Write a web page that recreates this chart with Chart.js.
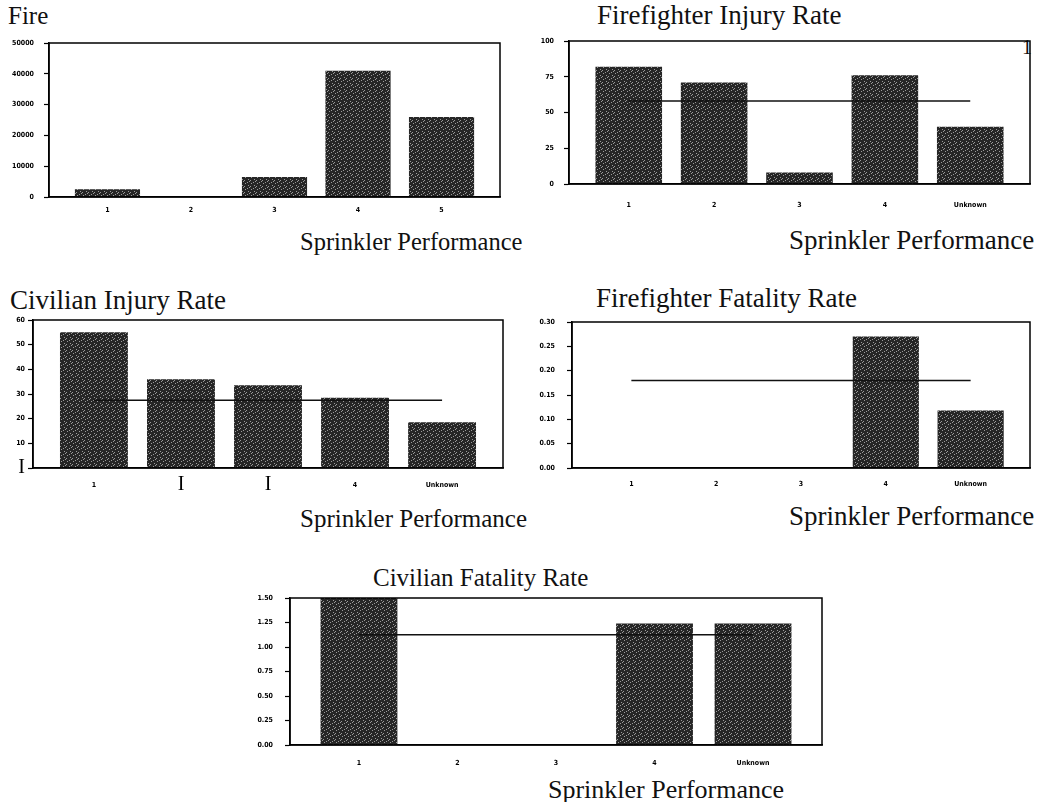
<!DOCTYPE html>
<html>
<head>
<meta charset="utf-8">
<script src="https://cdn.jsdelivr.net/npm/chart.js@4.4.1/dist/chart.umd.min.js"></script>
<style>
  body { margin: 0; background: #fff; width: 1039px; height: 802px; position: relative; overflow: hidden; }
  canvas { position: absolute; }
  .t { position: absolute; font-family: "Liberation Serif", "DejaVu Serif", serif; font-size: 27px; line-height: 27px; color: #111; white-space: nowrap; }
</style>
</head>
<body>
<div class="t" style="left:8px;top:2px;font-size:25px">Fire</div>
<div class="t" style="left:597px;top:2px">Firefighter Injury Rate</div>
<div class="t" style="left:1022px;top:34px;font-size:20px">1</div>
<div class="t" style="left:300px;top:228px;font-size:24.5px">Sprinkler Performance</div>
<div class="t" style="left:789px;top:227px">Sprinkler Performance</div>
<div class="t" style="left:10px;top:287px">Civilian Injury Rate</div>
<div class="t" style="left:596px;top:285px">Firefighter Fatality Rate</div>
<div class="t" style="left:300px;top:505px;font-size:25px">Sprinkler Performance</div>
<div class="t" style="left:789px;top:503px">Sprinkler Performance</div>
<div class="t" style="left:373px;top:564px;font-size:25px">Civilian Fatality Rate</div>
<div class="t" style="left:548px;top:776px;font-size:26px">Sprinkler Performance</div>

<canvas id="fire"></canvas>
<canvas id="ffInjury"></canvas>
<canvas id="civInjury"></canvas>
<canvas id="ffFatality"></canvas>
<canvas id="civFatality"></canvas>

<script>
// categories (sprinkler performance)
const fireCategories = ['1', '2', '3', '4', '5'];
const perfCategories = ['1', '2', '3', '4', 'Unknown'];
const civInjuryCategories = ['1', 'I', 'I', '4', 'Unknown'];

// values
const fireValues = [2500, 0, 6500, 41000, 26000];
const ffInjuryRates = [82, 71, 8, 76, 40];
const ffInjuryAverage = [58, 58, 58, 58, 58];
const civInjuryRates = [55, 36, 33.5, 28.5, 18.5];
const civInjuryAverage = [27.5, 27.5, 27.5, 27.5, 27.5];
const ffFatalityRates = [0, 0, 0, 0.27, 0.118];
const ffFatalityAverage = [0.18, 0.18, 0.18, 0.18, 0.18];
const civFatalityRates = [1.5, 0, 0, 1.24, 1.24];
const civFatalityAverage = [1.125, 1.125, 1.125, 1.125, 1.125];

// y tick values
const fireTicks = [0, 10000, 20000, 30000, 40000, 50000];
const ffInjuryTicks = [0, 25, 50, 75, 100];
const civInjuryTicks = [0, 10, 20, 30, 40, 50, 60];
const ffFatalityTicks = [0, 0.05, 0.10, 0.15, 0.20, 0.25, 0.30];
const civFatalityTicks = [0, 0.25, 0.50, 0.75, 1.00, 1.25, 1.50];

const EDGE = 0.1; // extra room inside the frame, in categories
const smallFont = { family: "'Liberation Sans Narrow', 'DejaVu Sans Condensed', sans-serif", size: 7, weight: 'bold' };
const serifI = { family: "'Liberation Serif', serif", size: 20, lineHeight: '8px' };

// speckled dark fill, a bit like the photocopied bars
function speckle() {
  const t = document.createElement('canvas');
  t.width = 6; t.height = 6;
  const g = t.getContext('2d');
  g.fillStyle = '#262626';
  g.fillRect(0, 0, 6, 6);
  g.fillStyle = '#9a9a9a';
  [[1, 0], [4, 2], [0, 3], [3, 5], [5, 4]].forEach(([x, y]) => g.fillRect(x, y, 1, 1));
  return g.createPattern(t, 'repeat');
}

// category axis with a little empty space at both ends, like the old charts
class PaddedCategory extends Chart.CategoryScale {
  static id = 'paddedCategory';
  static defaults = Chart.CategoryScale.defaults;
  configure() {
    super.configure();
    this._startValue -= EDGE;
    this._valueRange += 2 * EDGE;
  }
}
Chart.register(PaddedCategory);

// draws the box round the plot
const framePlugin = {
  id: 'frame',
  afterDraw(chart) {
    const a = chart.chartArea, c = chart.ctx;
    c.save();
    c.strokeStyle = '#000';
    c.lineWidth = 1.5;
    c.strokeRect(a.left, a.top, a.right - a.left, a.bottom - a.top);
    c.restore();
  }
};

function makeChart(id, box, opts) {
  const yW = 45, padR = 6, xH = 34;
  const padTop = opts.yPad + 6;
  const cv = document.getElementById(id);
  cv.width = (box.right - box.left) + yW + padR;
  cv.height = (box.bottom - box.top) + padTop + xH;
  cv.style.left = (box.left - yW) + 'px';
  cv.style.top = (box.top - padTop) + 'px';

  const datasets = [];
  if (opts.average) {
    datasets.push({
      type: 'line', data: opts.average, borderColor: '#111', borderWidth: 1.5,
      pointRadius: 0, fill: false, order: 0
    });
  }
  datasets.push({
    type: 'bar', data: opts.values, backgroundColor: speckle(), borderWidth: 0,
    barPercentage: 0.78, categoryPercentage: 1, order: 1
  });

  const ticks = opts.ticks;
  const pickFont = (ctx) => (ctx.tick && ctx.tick.label === 'I') ? serifI : smallFont;
  return new Chart(cv.getContext('2d'), {
    data: { labels: opts.labels, datasets },
    plugins: [framePlugin],
    options: {
      responsive: false,
      animation: false,
      devicePixelRatio: 1,
      layout: { padding: { top: padTop, right: padR, left: 0, bottom: 0 } },
      plugins: { legend: { display: false }, tooltip: { enabled: false } },
      scales: {
        x: {
          type: 'paddedCategory',
          grid: { display: false, drawTicks: false, tickLength: 0 },
          border: { display: true, color: '#000', width: 1.5 },
          ticks: { color: '#000', padding: opts.xPad, maxRotation: 0, autoSkip: false, font: pickFont },
          afterFit: (s) => { s.height = xH; }
        },
        y: {
          min: ticks[0], max: ticks[ticks.length - 1],
          grid: { display: true, drawOnChartArea: false, tickLength: 5, color: '#000', tickWidth: 1.2 },
          border: { display: true, color: '#000', width: 1.5 },
          ticks: {
            color: '#000', padding: opts.yPad, font: pickFont,
            stepSize: ticks[1] - ticks[0],
            callback: opts.yFormat
          },
          afterFit: (s) => { s.width = yW; }
        }
      }
    }
  });
}

makeChart('fire', { left: 49, top: 43, right: 500, bottom: 197 }, {
  labels: fireCategories, values: fireValues, ticks: fireTicks,
  xPad: 9, yPad: 10, yFormat: (v) => String(v)
});

makeChart('ffInjury', { left: 569, top: 41, right: 1030, bottom: 184 }, {
  labels: perfCategories, values: ffInjuryRates, average: ffInjuryAverage, ticks: ffInjuryTicks,
  xPad: 17, yPad: 10, yFormat: (v) => String(v)
});

makeChart('civInjury', { left: 33, top: 320, right: 503, bottom: 468 }, {
  labels: civInjuryCategories, values: civInjuryRates, average: civInjuryAverage, ticks: civInjuryTicks,
  xPad: 13, yPad: 3, yFormat: (v) => v === 0 ? 'I' : String(v)
});

makeChart('ffFatality', { left: 572, top: 322, right: 1030, bottom: 468 }, {
  labels: perfCategories, values: ffFatalityRates, average: ffFatalityAverage, ticks: ffFatalityTicks,
  xPad: 12, yPad: 12, yFormat: (v) => v.toFixed(2)
});

makeChart('civFatality', { left: 290, top: 598, right: 822, bottom: 745 }, {
  labels: perfCategories, values: civFatalityRates, average: civFatalityAverage, ticks: civFatalityTicks,
  xPad: 14, yPad: 12, yFormat: (v) => v.toFixed(2)
});
</script>
</body>
</html>
